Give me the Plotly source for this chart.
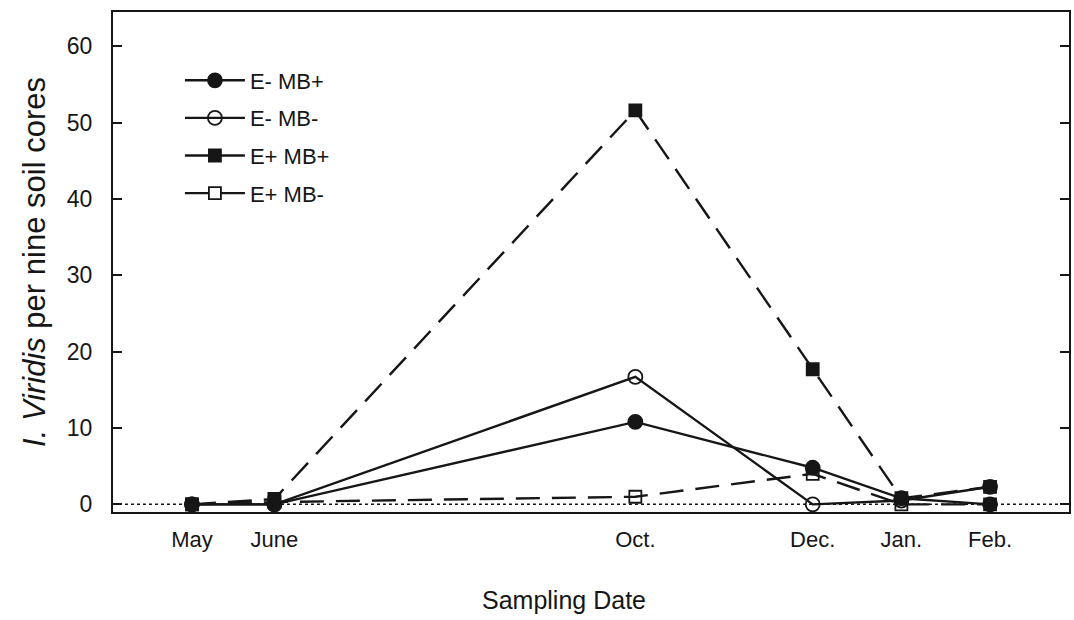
import plotly.graph_objects as go

# Sampling occasions (position in months from the start of the year, continuing into the next year)
month_pos = [5.0, 5.93, 10.0, 12.0, 13.0, 14.0]
month_labels = ["May", "June", "Oct.", "Dec.", "Jan.", "Feb."]

# Counts of I. viridis per nine soil cores for each treatment
e_minus_mb_plus = [0.0, 0.0, 10.8, 4.8, 0.8, 0.0]
e_minus_mb_minus = [0.0, 0.0, 16.7, 0.0, 0.5, 2.3]
e_plus_mb_plus = [0.0, 0.7, 51.6, 17.7, 0.8, 2.3]
e_plus_mb_minus = [0.0, 0.3, 1.0, 4.0, 0.0, 0.0]

INK = "#161616"
DASH = "24px,12px"

series = [
    ("E- MB+", e_minus_mb_plus, "circle", "solid", 14),
    ("E- MB-", e_minus_mb_minus, "circle-open", "solid", 14),
    ("E+ MB+", e_plus_mb_plus, "square", DASH, 12),
    ("E+ MB-", e_plus_mb_minus, "square-open", DASH, 12),
]

fig = go.Figure()
for name, vals, sym, dash, size in series:
    fig.add_trace(go.Scatter(
        x=month_pos, y=vals, name=name, legendgroup=name, mode="lines+markers",
        line=dict(color=INK, width=2.4, dash=dash),
        marker=dict(symbol=sym, size=size, color=INK,
                    line=dict(color=INK, width=1.8)),
    ))

# dotted reference line at zero
fig.add_shape(type="line", xref="paper", yref="y", x0=0, x1=1, y0=0, y1=0,
              line=dict(color=INK, width=1.5, dash="dot"), layer="below")

fig.update_layout(
    width=1074, height=620,
    margin=dict(l=113, r=3, t=12, b=108),
    paper_bgcolor="white", plot_bgcolor="white",
    font=dict(family="Liberation Sans, Arial, sans-serif", color=INK),
    showlegend=True,
    legend=dict(x=0.07, y=0.905, xanchor="left", yanchor="top",
                font=dict(size=22), bgcolor="rgba(0,0,0,0)",
                tracegroupgap=6, itemwidth=60),
    xaxis=dict(
        range=[4.11, 14.89], tickmode="array", tickvals=month_pos,
        ticktext=month_labels, ticks="", showgrid=False, zeroline=False,
        showline=True, linecolor=INK, linewidth=2, mirror=True,
        tickfont=dict(size=22), ticklabelstandoff=7,
    ),
    yaxis=dict(
        range=[-1.0, 64.5], tickmode="array", tickvals=[0, 10, 20, 30, 40, 50, 60],
        ticks="inside", ticklen=9, tickwidth=2, tickcolor=INK,
        showgrid=False, zeroline=False,
        showline=True, linecolor=INK, linewidth=2, mirror="ticks",
        tickfont=dict(size=23), ticklabelstandoff=14,
        title=dict(text="<i>I. Viridis</i> per nine soil cores",
                   font=dict(size=31), standoff=12),
    ),
    annotations=[dict(
        text="Sampling Date", xref="paper", yref="paper", x=0.472, y=-0.176,
        xanchor="center", yanchor="middle", showarrow=False,
        font=dict(size=25, color=INK),
    )],
)

fig.write_html("out.html")
